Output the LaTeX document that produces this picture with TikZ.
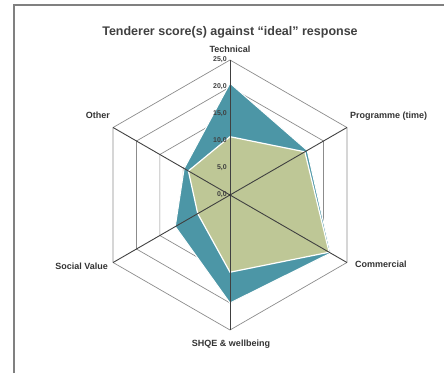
\documentclass[tikz,border=0pt]{standalone}
\usepackage{fontspec}
\setmainfont{Liberation Sans}
\definecolor{tealfill}{RGB}{76,150,166}
\definecolor{olivefill}{RGB}{190,199,150}
\begin{document}
\begin{tikzpicture}[x=1pt,y=1pt,
  gridline/.style={draw=black!45, line width=0.7pt},
  spoke/.style={draw=black!75, line width=0.9pt},
  axislabel/.style={font=\bfseries\fontsize{9}{10}\selectfont, text=black!80, inner sep=0pt},
  ticklabel/.style={font=\bfseries\fontsize{7}{8}\selectfont, text=black!75, inner sep=0pt, anchor=east},
  blueseries/.style={fill=tealfill, draw=white, line width=1pt, line join=round},
  greenseries/.style={fill=olivefill, draw=white, line width=1.2pt, line join=round}]
\useasboundingbox (0,0) rectangle (444,373);
\draw[line width=1.5pt, draw=black!50] (14,0) -- (14,368) -- (444,368);
\node[font=\bfseries\fontsize{12.5}{14}\selectfont, text=black!75] (title) at (230,341) {Tenderer score(s) against “ideal” response};
\begin{scope}[shift={(230,178)}]
  \foreach \r in {27,54,81,108,135}
    \draw[gridline] (90:\r) -- (30:\r) -- (-30:\r) -- (-90:\r) -- (210:\r) -- (150:\r) -- cycle;
  \draw[blueseries] (90:{20.7*5.4}) -- (30:{16.5*5.4}) -- (-30:{21.5*5.4}) -- (-90:{20*5.4}) -- (210:{11.7*5.4}) -- (150:{9.8*5.4}) -- cycle;
  \draw[greenseries] (90:{10.8*5.4}) -- (30:{16*5.4}) -- (-30:{21.2*5.4}) -- (-90:{14.3*5.4}) -- (210:{6.9*5.4}) -- (150:{8.9*5.4}) -- cycle;
  \coordinate (c) at (0,0);
  \coordinate (vT) at (90:135);
  \coordinate (vP) at (30:135);
  \coordinate (vC) at (-30:135);
  \coordinate (vS) at (-90:135);
  \coordinate (vV) at (210:135);
  \coordinate (vO) at (150:135);
  \foreach \v in {vT,vP,vC,vS,vV,vO}
    \draw[spoke] (c) -- (\v);
  \fill[black!80] (c) circle (1.2);
  \foreach \i in {0,...,5}
    \node[ticklabel] (t\i) at (-3,{27*\i}) {\pgfmathparse{int(5*\i)}\pgfmathresult,0};
\end{scope}
\node[axislabel] (lT) at (230,324) {Technical};
\node[axislabel, anchor=west] (lP) at (350,257) {Programme (time)};
\node[axislabel, anchor=west] (lC) at (355,109) {Commercial};
\node[axislabel] (lS) at (231,29) {SHQE \& wellbeing};
\node[axislabel, anchor=east] (lV) at (108,107) {Social Value};
\node[axislabel, anchor=east] (lO) at (110,258) {Other};
\end{tikzpicture}
\end{document}
